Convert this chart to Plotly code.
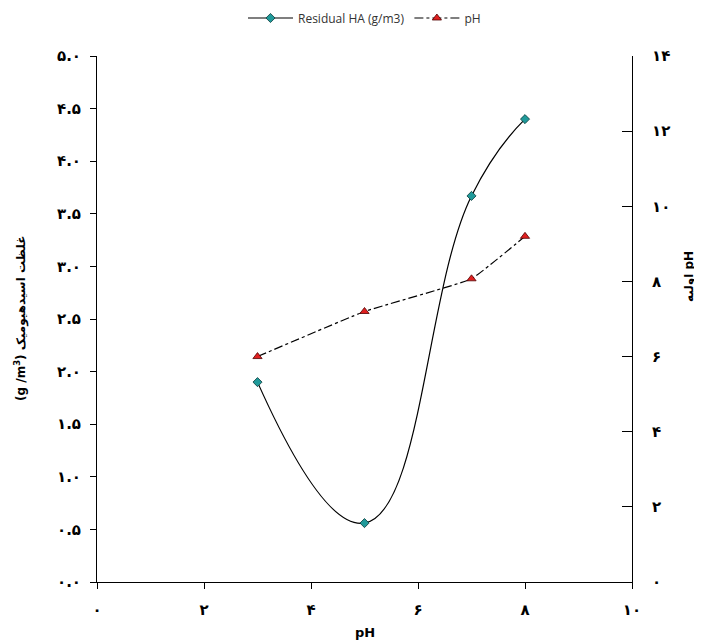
import plotly.graph_objects as go

ph_x = [3, 5, 7, 8]
residual_ha = [1.90, 0.56, 3.67, 4.40]
initial_ph = [6.0, 7.2, 8.07, 9.2]

fa = str.maketrans("0123456789", "۰۱۲۳۴۵۶۷۸۹")
x_ticks = [0, 2, 4, 6, 8, 10]
y1_ticks = [0, 0.5, 1, 1.5, 2, 2.5, 3, 3.5, 4, 4.5, 5]
y2_ticks = [0, 2, 4, 6, 8, 10, 12, 14]

fig = go.Figure()
fig.add_trace(go.Scatter(
    x=ph_x, y=residual_ha, name="Residual HA (g/m3)", mode="lines+markers",
    line=dict(color="black", width=1.2, shape="spline", smoothing=1.3),
    marker=dict(symbol="diamond", size=7, color="#1f9a9a", line=dict(color="#0a3a3a", width=0.8)),
    yaxis="y"))
fig.add_trace(go.Scatter(
    x=ph_x, y=initial_ph, name="pH", mode="lines+markers",
    line=dict(color="black", width=1.2, dash="dashdot", shape="spline", smoothing=0.3),
    marker=dict(symbol="triangle-up", size=8, color="#e02020", line=dict(color="#500000", width=0.8)),
    yaxis="y2"))

tickfont = dict(family="DejaVu Sans", size=15, color="black", weight="bold")
titlefont = dict(family="DejaVu Sans", size=12, color="black")
fig.update_layout(
    width=694, height=636,
    margin=dict(l=89, r=70, t=48, b=62, autoexpand=False),
    paper_bgcolor="white", plot_bgcolor="white",
    showlegend=True,
    legend=dict(orientation="h", x=0.5, xanchor="center", y=1 + 38/526, yanchor="middle",
                font=dict(family="Open Sans", size=12, color="#333333"),
                bgcolor="rgba(0,0,0,0)", itemwidth=45),
    xaxis=dict(range=[0, 10], tickvals=x_ticks,
               ticktext=[str(v).translate(fa) for v in x_ticks],
               showgrid=False, zeroline=False, showline=True, linecolor="black", linewidth=1,
               ticks="outside", ticklen=6, tickcolor="black", tickfont=tickfont, automargin=False,
               ticklabelstandoff=8),
    yaxis=dict(range=[0, 5], tickvals=y1_ticks,
               ticktext=[f"{v:.1f}".translate(fa) for v in y1_ticks],
               showgrid=False, zeroline=False, showline=True, linecolor="black", linewidth=1,
               ticks="outside", ticklen=6, tickcolor="black", tickfont=tickfont, automargin=False,
               ticklabelstandoff=6),
    yaxis2=dict(range=[0, 14], tickvals=y2_ticks,
                ticktext=[str(v).translate(fa) for v in y2_ticks],
                overlaying="y", side="right",
                showgrid=False, zeroline=False, showline=True, linecolor="black", linewidth=1,
                ticks="inside", ticklen=10, tickcolor="black", tickfont=tickfont, automargin=False,
                ticklabelstandoff=16),
    annotations=[
        dict(text="<b>pH</b>", xref="paper", yref="paper", x=0.5, y=-50/526, yanchor="middle",
             showarrow=False, font=dict(family="DejaVu Sans", size=13, color="black")),
        dict(text="<b>(g /m<sup>3</sup>) غلظت اسیدهیومیک</b>", xref="paper", yref="paper",
             x=-77/535, y=0.5, xanchor="center", yanchor="middle", textangle=-90,
             showarrow=False, font=titlefont),
        dict(text="<b>اولیه pH</b>", xref="paper", yref="paper",
             x=1 + 58/535, y=0.58, xanchor="center", yanchor="middle", textangle=-90,
             showarrow=False, font=titlefont),
    ],
)
fig.write_html("out.html")
